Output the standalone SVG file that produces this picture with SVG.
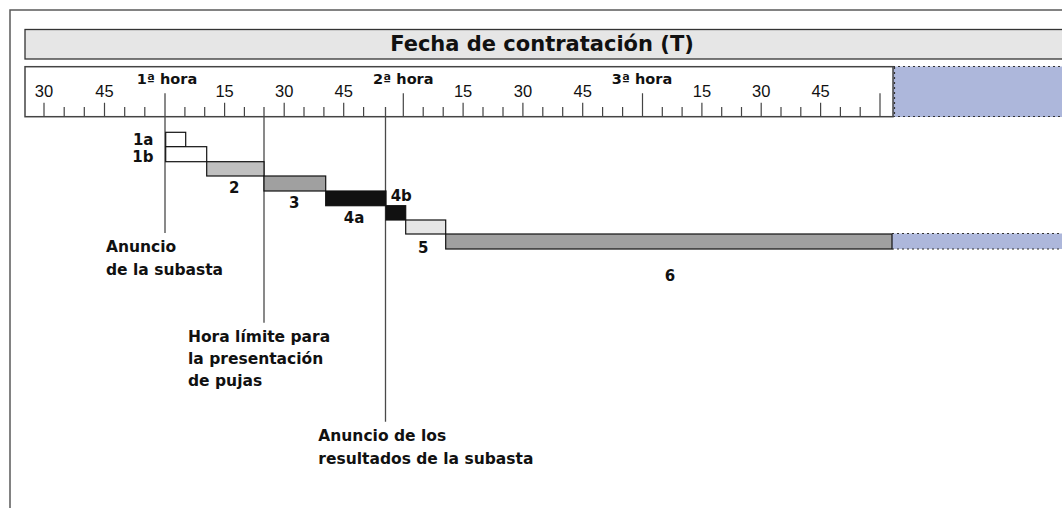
<svg xmlns="http://www.w3.org/2000/svg" width="1062" height="508" viewBox="0 0 1062 508">
<style>
.frame{fill:none;stroke:#5a5a5a;stroke-width:1.5}
.title{fill:#e6e6e6;stroke:#333;stroke-width:1.3}
.ruler{fill:#fff;stroke:#444;stroke-width:1.5}
.tick{fill:none;stroke:#444;stroke-width:1.2}
.blue{fill:#adb7db;stroke:none}
.dot{fill:none;stroke:#333;stroke-width:1.2;stroke-dasharray:2 3}
.bar{stroke:#111;stroke-width:1.2}
.conn{fill:none;stroke:#4a4a4a;stroke-width:1.3}
.num{font-family:"Liberation Sans",Arial,sans-serif;font-size:16.5px;fill:#111;text-anchor:middle}
.hr{font-family:"DejaVu Sans",sans-serif;font-weight:bold;font-size:14.5px;fill:#111;text-anchor:middle}
.lbl{font-family:"DejaVu Sans",sans-serif;font-weight:bold;font-size:15px;fill:#111}
.note{font-family:"DejaVu Sans",sans-serif;font-weight:bold;font-size:15.5px;fill:#111}
.ttl{font-family:"DejaVu Sans",sans-serif;font-weight:bold;font-size:21px;fill:#111;text-anchor:middle}
</style>
<rect width="1062" height="508" fill="#fff"/>
<path class="frame" d="M10,520 V10 H1075"/>
<g id="title">
<rect class="title" x="25" y="29.5" width="1050" height="29.5"/>
<text class="ttl" x="542" y="51">Fecha de contratación (T)</text>
</g>
<g id="ruler">
<rect class="blue" x="893" y="66.5" width="180" height="50.5"/>
<path class="dot" d="M893,66.5 H1075 M893,116.5 H1075 M894.5,67 V116"/>
<rect class="ruler" x="25" y="66.7" width="868" height="50"/>
<path class="tick" d="M64.2,107V117M84.3,107V117M124.7,107V117M144.8,107V117M184.9,107V117M204.7,107V117M244.4,107V117M304,107V117M323.9,107V117M363.6,107V117M423.2,107V117M443.2,107V117M483,107V117M503,107V117M542.8,107V117M562.7,107V117M602.6,107V117M622.6,107V117M662.3,107V117M682.1,107V117M721.7,107V117M741.5,107V117M781,107V117M800.8,107V117M840.4,107V117M860.2,107V117
M44,102.7V117M104.5,102.7V117M224.6,102.7V117M284.2,102.7V117M343.7,102.7V117M463.1,102.7V117M522.9,102.7V117M582.7,102.7V117M701.9,102.7V117M761.2,102.7V117M820.6,102.7V117
M403.3,93.3V117M642.5,93.3V117M880,93.3V117"/>
<text class="num" x="44" y="96.5">30</text>
<text class="num" x="104.5" y="96.5">45</text>
<text class="hr" x="167" y="83.5">1ª hora</text>
<text class="num" x="224.6" y="96.5">15</text>
<text class="num" x="284.2" y="96.5">30</text>
<text class="num" x="343.7" y="96.5">45</text>
<text class="hr" x="403.3" y="83.5">2ª hora</text>
<text class="num" x="463.1" y="96.5">15</text>
<text class="num" x="522.9" y="96.5">30</text>
<text class="num" x="582.7" y="96.5">45</text>
<text class="hr" x="642" y="83.5">3ª hora</text>
<text class="num" x="701.9" y="96.5">15</text>
<text class="num" x="761.2" y="96.5">30</text>
<text class="num" x="820.6" y="96.5">45</text>
</g>
<g id="connectors">
<path class="conn" d="M165,93.3 V233"/>
<path class="conn" d="M264,107 V322.7"/>
<path class="conn" d="M385.5,107 V421.7"/>
</g>
<g id="bar-1a">
<rect class="bar" x="165.7" y="132.3" width="20" height="14.4" fill="#fff"/>
<text class="lbl" x="153.5" y="145" text-anchor="end">1a</text>
</g>
<g id="bar-1b">
<rect class="bar" x="165.7" y="146.7" width="41" height="15" fill="#fff"/>
<text class="lbl" x="153.5" y="161.5" text-anchor="end">1b</text>
</g>
<g id="bar-2">
<rect class="bar" x="206.7" y="161.7" width="57.3" height="14.3" fill="#c0c0c0"/>
<text class="lbl" x="234.3" y="193.3" text-anchor="middle">2</text>
</g>
<g id="bar-3">
<rect class="bar" x="264" y="176" width="61.7" height="15" fill="#a0a0a0"/>
<text class="lbl" x="294.3" y="208.3" text-anchor="middle">3</text>
</g>
<g id="bar-4a">
<rect class="bar" x="325.7" y="191" width="60.3" height="14.7" fill="#111"/>
<text class="lbl" x="354" y="223.3" text-anchor="middle">4a</text>
</g>
<g id="bar-4b">
<rect class="bar" x="386" y="205.7" width="19.7" height="14.3" fill="#111"/>
<text class="lbl" x="390.7" y="200.7">4b</text>
</g>
<g id="bar-5">
<rect class="bar" x="405.7" y="220" width="40" height="14" fill="#e6e6e6"/>
<text class="lbl" x="423.3" y="253.3" text-anchor="middle">5</text>
</g>
<g id="bar-6">
<rect class="blue" x="892" y="233.5" width="180" height="15.5"/>
<path class="dot" d="M892,233.5 H1075 M892,249 H1075"/>
<rect class="bar" x="445.7" y="234" width="446.3" height="15" fill="#a0a0a0"/>
<text class="lbl" x="670" y="281" text-anchor="middle">6</text>
</g>
<g id="anuncio-subasta">
<text class="note" x="106" y="252">Anuncio</text>
<text class="note" x="106" y="275">de la subasta</text>
</g>
<g id="hora-limite">
<text class="note" x="188" y="341.7">Hora límite para</text>
<text class="note" x="188" y="363.5">la presentación</text>
<text class="note" x="188" y="386">de pujas</text>
</g>
<g id="anuncio-resultados">
<text class="note" x="318.3" y="440.7">Anuncio de los</text>
<text class="note" x="318.3" y="464.3">resultados de la subasta</text>
</g>
</svg>
